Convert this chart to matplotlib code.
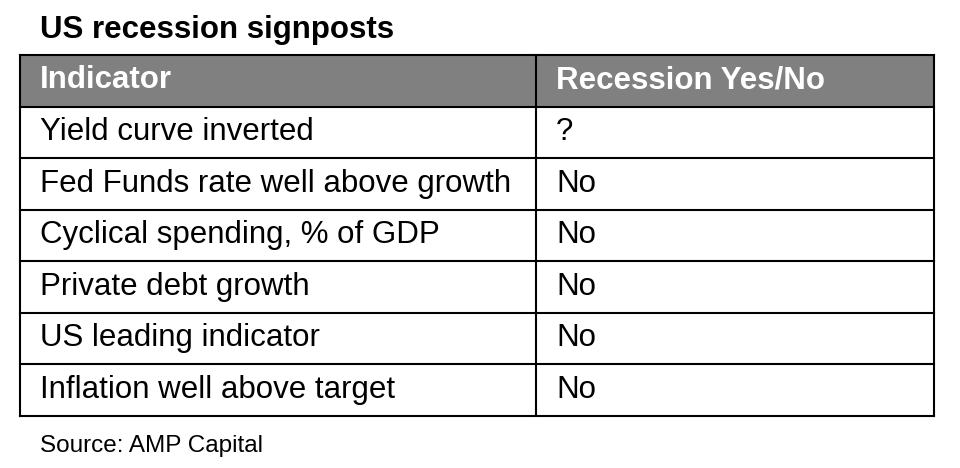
import matplotlib.pyplot as plt
from matplotlib.patches import Rectangle

plt.rcParams['font.family'] = ['Liberation Sans', 'DejaVu Sans']

# table content
title = "US recession signposts"
headers = ["Indicator", "Recession Yes/No"]
indicators = ["Yield curve inverted",
              "Fed Funds rate well above growth",
              "Cyclical spending, % of GDP",
              "Private debt growth",
              "US leading indicator",
              "Inflation well above target"]
answers = ["?", "No", "No", "No", "No", "No"]
source = "Source: AMP Capital"

fig = plt.figure(figsize=(9.6, 4.68), dpi=100)
ax = fig.add_axes([0, 0, 1, 1])
ax.set_xlim(0, 960)
ax.set_ylim(468, 0)
ax.axis('off')

# layout in pixels
left, mid, right = 20, 536, 934
top, bottom = 55, 416
n = len(indicators) + 1
rh = (bottom - top) / n
pad = 20
base = 33.5  # baseline offset from row top
lw = 1.5

# header band
ax.add_patch(Rectangle((left, top), right - left, rh, facecolor='#808080',
                       edgecolor='none', zorder=1))
ax.text(left + pad, top + base, headers[0], color='white', fontsize=22.5,
        fontweight='bold', va='baseline', ha='left', zorder=3)
ax.text(mid + pad, top + base, headers[1], color='white', fontsize=22.5,
        fontweight='bold', va='baseline', ha='left', zorder=3)

for i, (ind, ans) in enumerate(zip(indicators, answers)):
    yb = top + rh * (i + 1) + base
    ax.text(left + pad, yb, ind, color='black', fontsize=22.5,
            va='baseline', ha='left', zorder=3)
    ax.text(mid + pad, yb, ans, color='black', fontsize=22.5,
            va='baseline', ha='left', zorder=3)

# grid lines
for k in range(n + 1):
    y = top + rh * k
    ax.plot([left, right], [y, y], color='black', lw=lw, zorder=2,
            solid_capstyle='projecting')
for x in (left, mid, right):
    ax.plot([x, x], [top, bottom], color='black', lw=lw, zorder=2,
            solid_capstyle='projecting')

ax.text(40, 38, title, fontsize=22.5, fontweight='bold', va='baseline', ha='left')
ax.text(40, 452, source, fontsize=17.5, va='baseline', ha='left')

fig.savefig('out.png', dpi=100)
